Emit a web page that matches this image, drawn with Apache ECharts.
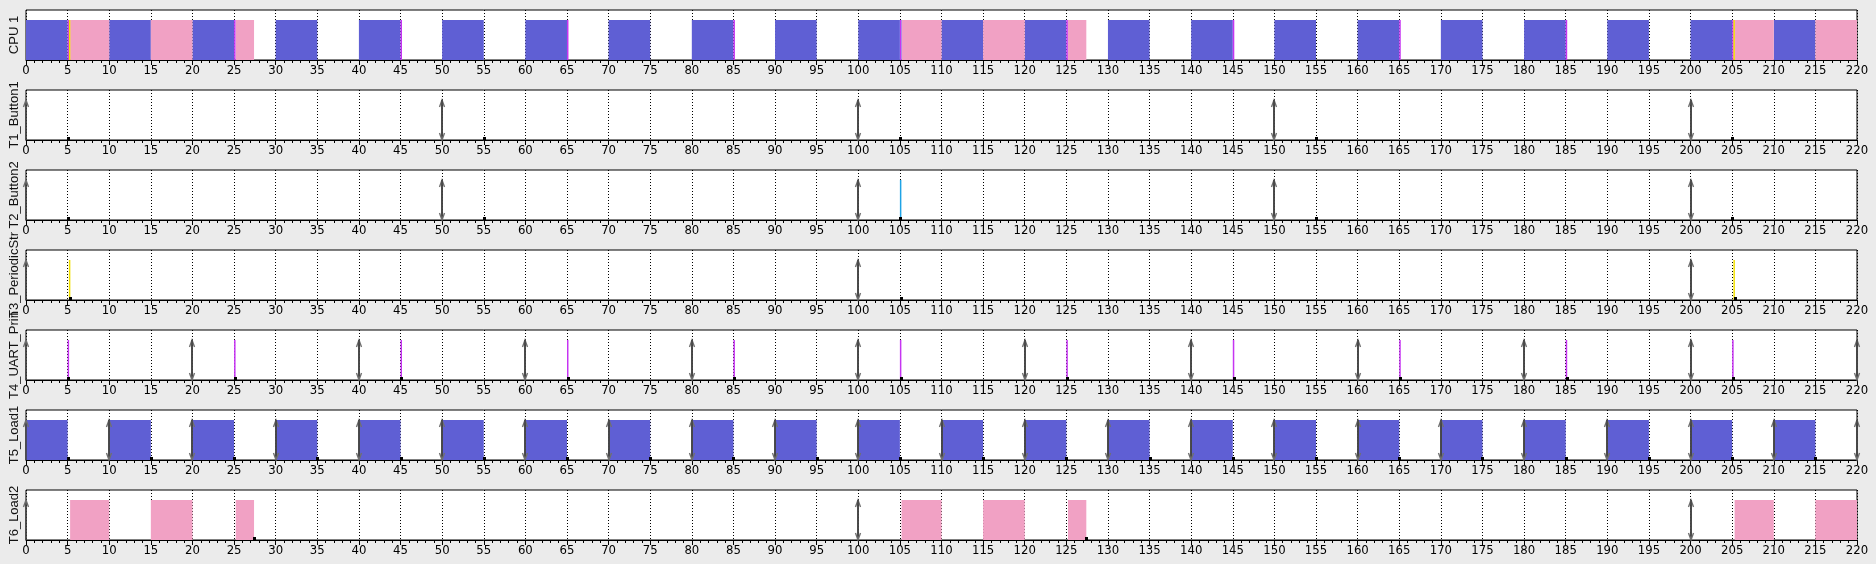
<!DOCTYPE html>
<html>
<head>
<meta charset="utf-8">
<script src="https://cdn.jsdelivr.net/npm/echarts@6/dist/echarts.min.js"></script>
<style>
html,body{margin:0;padding:0;background:#ebebeb;}
#c{width:1876px;height:564px;}
</style>
</head>
<body>
<div id="c"></div>
<script>
// ---------- data ----------
const xMin = 0, xMax = 220, xStep = 5;
const rowNames = ['CPU 1', 'T1_Button1', 'T2_Button2', 'T3_PeriodicStr', 'T4_UART_Prin', 'T5_Load1', 'T6_Load2'];
const taskKeys = ['T1', 'T2', 'T3', 'T4', 'T5', 'T6'];
const taskColors = ['#3a6fd8', '#1fa3e6', '#f2e100', '#c634f2', '#5f5fd4', '#f1a1c4'];

// execution intervals [start, end]
const t1Exec = [];
const t2Exec = [[105.0, 105.12]];
const t3Exec = [[5.15, 5.3], [205.15, 205.3]];
const t4Exec = [[5.0, 5.15], [25.0, 25.15], [45.0, 45.15], [65.0, 65.15], [85.0, 85.15], [105.0, 105.15],
                [125.0, 125.15], [145.0, 145.15], [165.0, 165.15], [185.0, 185.15], [205.0, 205.15]];
const t5Exec = [[0, 5], [10, 15], [20, 25], [30, 35], [40, 45], [50, 55], [60, 65], [70, 75], [80, 85], [90, 95],
                [100, 105], [110, 115], [120, 125], [130, 135], [140, 145], [150, 155], [160, 165], [170, 175],
                [180, 185], [190, 195], [200, 205], [210, 215]];
const t6Exec = [[5.3, 10], [15, 20], [25.2, 27.4], [105.2, 110], [115, 120], [125.2, 127.4], [205.3, 210], [215, 220]];

// job completion marks
const t1Done = [5, 55, 105, 155, 205];
const t2Done = [5, 55, 105, 155, 205];
const t3Done = [5.3, 105.1, 205.3];
const t4Done = [5.1, 25.1, 45.1, 65.1, 85.1, 105.1, 125.1, 145.1, 165.1, 185.1, 205.1];
const t5Done = [5, 15, 25, 35, 45, 55, 65, 75, 85, 95, 105, 115, 125, 135, 145, 155, 165, 175, 185, 195, 205, 215];
const t6Done = [27.4, 127.4];

// job releases (up arrows) and deadlines (down arrows)
const t1Release = [0, 50, 100, 150, 200];
const t1Deadline = [50, 100, 150, 200];
const t2Release = [0, 50, 100, 150, 200];
const t2Deadline = [50, 100, 150, 200];
const t3Release = [0, 100, 200];
const t3Deadline = [100, 200];
const t4Release = [0, 20, 40, 60, 80, 100, 120, 140, 160, 180, 200, 220];
const t4Deadline = [20, 40, 60, 80, 100, 120, 140, 160, 180, 200, 220];
const t5Release = [0, 10, 20, 30, 40, 50, 60, 70, 80, 90, 100, 110, 120, 130, 140, 150, 160, 170, 180, 190, 200, 210, 220];
const t5Deadline = [10, 20, 30, 40, 50, 60, 70, 80, 90, 100, 110, 120, 130, 140, 150, 160, 170, 180, 190, 200, 210, 220];
const t6Release = [0, 100, 200];
const t6Deadline = [100, 200];

const execs = [t1Exec, t2Exec, t3Exec, t4Exec, t5Exec, t6Exec];
const dones = [t1Done, t2Done, t3Done, t4Done, t5Done, t6Done];
const releases = [t1Release, t2Release, t3Release, t4Release, t5Release, t6Release];
const deadlines = [t1Deadline, t2Deadline, t3Deadline, t4Deadline, t5Deadline, t6Deadline];
// CPU draw order: long jobs first, thin ones on top
const cpuOrder = [4, 5, 0, 1, 3, 2];

// ---------- layout ----------
const LEFT = 22, RIGHT = 19, TOP0 = 10, STEP = 80, H = 50;
const labelFont = "'Liberation Sans Narrow','DejaVu Sans Condensed','Liberation Sans',sans-serif";
const nameFont = "'Liberation Sans','DejaVu Sans',sans-serif";

const grids = [], xAxes = [], yAxes = [], series = [];

function renderExec(params, api) {
  const s = api.coord([api.value(0), 0]);
  const e = api.coord([api.value(1), 1]);
  let w = e[0] - s[0];
  if (w < 1.5) w = 1.5;
  return { type: 'rect', shape: { x: s[0], y: e[1], width: w, height: s[1] - e[1] },
           style: { fill: taskColors[api.value(2)] } };
}
function renderArrow(params, api) {
  const b = api.coord([api.value(0), 0]);
  const t = api.coord([api.value(0), 1]);
  const x = Math.round(b[0]);
  const up = api.value(1) === 0;
  const head = up ? [[x - 2.5, t[1] + 7], [x, t[1]], [x + 2.5, t[1] + 7]]
                  : [[x - 2.5, b[1] - 7], [x, b[1]], [x + 2.5, b[1] - 7]];
  return { type: 'group', children: [
    { type: 'line', shape: { x1: x, y1: b[1], x2: x, y2: t[1] }, style: { stroke: '#454545', lineWidth: 1.6 } },
    { type: 'polyline', shape: { points: head }, style: { stroke: '#707070', lineWidth: 1.4, fill: null } }
  ]};
}
function renderDone(params, api) {
  const p = api.coord([api.value(0), 0]);
  return { type: 'rect', shape: { x: Math.round(p[0]) - 1, y: p[1] - 3, width: 3, height: 3 }, style: { fill: '#000' } };
}

for (let r = 0; r < rowNames.length; r++) {
  grids.push({ left: LEFT, right: RIGHT, top: TOP0 + STEP * r, height: H, show: true,
               backgroundColor: '#ffffff', borderColor: '#000', borderWidth: 1 });
  xAxes.push({ type: 'value', gridIndex: r, min: xMin, max: xMax, interval: xStep,
    axisLine: { show: true, onZero: false, lineStyle: { color: '#000', width: 1 } },
    axisTick: { show: true, length: 5, lineStyle: { color: '#000' } },
    minorTick: { show: true, splitNumber: 5, length: 3, lineStyle: { color: '#000' } },
    splitLine: { show: true, lineStyle: { color: '#000', width: 1, type: [1, 2] } },
    axisLabel: { color: '#000', fontSize: 13, fontFamily: labelFont, margin: 4, showMinLabel: true, showMaxLabel: true }
  });
  yAxes.push({ type: 'value', gridIndex: r, min: 0, max: 1.25,
    axisLine: { show: false }, axisTick: { show: false }, axisLabel: { show: false }, splitLine: { show: false },
    name: rowNames[r], nameLocation: 'middle', nameGap: 5, nameRotate: 90,
    nameTextStyle: { color: '#111', fontSize: 13, fontFamily: nameFont }
  });

  if (r === 0) {
    const data = [];
    cpuOrder.forEach(k => execs[k].forEach(seg => data.push([seg[0], seg[1], k])));
    series.push({ type: 'custom', xAxisIndex: 0, yAxisIndex: 0, renderItem: renderExec,
                  encode: { x: [0, 1] }, data: data, clip: true });
  } else {
    const k = r - 1;
    series.push({ type: 'custom', xAxisIndex: r, yAxisIndex: r, renderItem: renderExec, clip: true,
                  encode: { x: [0, 1] }, data: execs[k].map(seg => [seg[0], seg[1], k]) });
    const arr = releases[k].map(t => [t, 0]).concat(deadlines[k].map(t => [t, 1]));
    series.push({ type: 'custom', xAxisIndex: r, yAxisIndex: r, renderItem: renderArrow,
                  encode: { x: 0 }, data: arr, z: 3 });
    series.push({ type: 'custom', xAxisIndex: r, yAxisIndex: r, renderItem: renderDone,
                  encode: { x: 0 }, data: dones[k].map(t => [t]), z: 4 });
  }
}

const chart = echarts.init(document.getElementById('c'), null, { renderer: 'canvas' });
chart.setOption({
  backgroundColor: '#ebebeb',
  animation: false,
  grid: grids, xAxis: xAxes, yAxis: yAxes, series: series
});
</script>
</body>
</html>
